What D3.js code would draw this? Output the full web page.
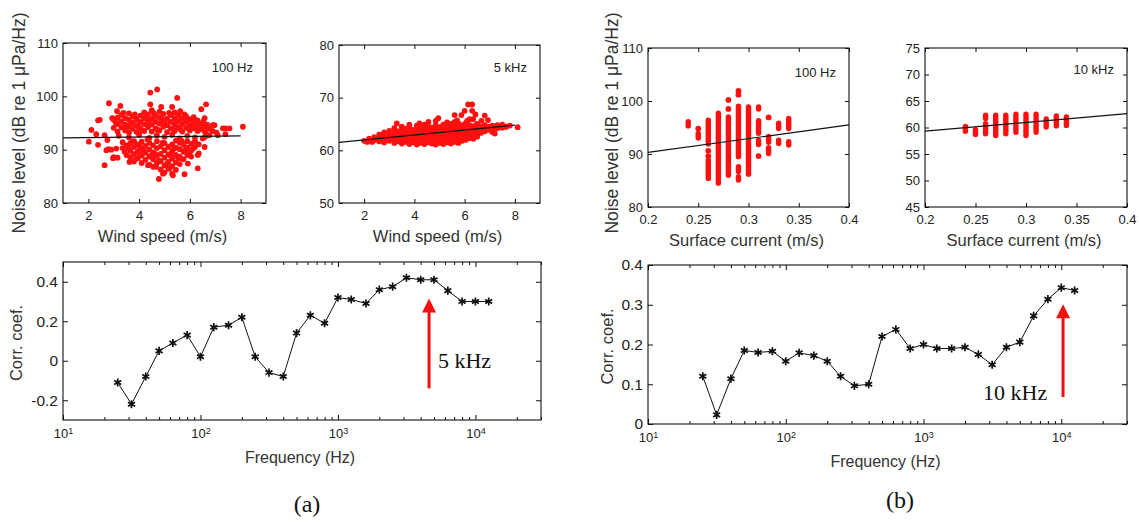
<!DOCTYPE html>
<html>
<head>
<meta charset="utf-8">
<script src="https://cdn.jsdelivr.net/npm/d3@7"></script>
<style>
body { margin: 0; background: #fff; }
svg { display: block; font-family: "Liberation Sans", Arial, sans-serif; }
</style>
</head>
<body>
<svg id="chart" width="1139" height="522"></svg>
<script>
// ---- (a) top left: noise at 100 Hz vs wind speed, [m/s, dB]
const windNoise100 = [
  [4.71,101.3],[4.44,100.7],[2.81,98.7],[5.5,99.7],[3.26,98.2],[4.44,98.5],[4.87,98.0],[5.3,98.0],
  [6.64,98.5],[6.45,97.6],[3.13,97.2],[5.62,97.2],[2.94,95.9],[2.38,95.5],[2.45,95.6],[6.58,95.9],
  [2.12,93.7],[2.31,92.9],[2.02,91.5],[2.38,90.9],[2.64,92.7],[2.71,89.9],[2.64,87.1],[3.1,90.2],
  [2.97,88.4],[8.09,94.3],[7.56,94.0],[7.4,94.0],[7.3,94.0],[6.97,94.6],[6.77,92.7],[6.51,92.1],
  [6.58,90.5],[6.31,89.0],[6.31,86.5],[5.79,85.4],[5.33,85.2],[5.2,86.5],[4.78,84.5],[4.94,85.5],
  [4.67,86.8],[4.35,87.1],[4.02,89.0],[3.62,87.7],[3.43,89.6],[5.92,87.4],[6.05,88.7],[5.59,88.4],
  [2.8,90.1],[2.9,90.0],[3.0,88.6],[3.15,88.5],[2.75,91.8],
  [3.0,94.1],[3.0,95.6],[3.15,93.4],[3.15,94.8],[3.15,96.0],[3.3,94.2],[3.3,95.3],[3.3,96.5],
  [3.45,93.6],[3.45,94.7],[3.45,95.9],[3.6,93.2],[3.6,94.4],[3.6,95.6],[3.6,96.8],[3.75,93.9],
  [3.75,95.0],[3.75,96.2],[3.9,93.3],[3.9,94.6],[3.9,95.7],[4.05,94.0],[4.05,95.2],[4.05,96.4],
  [4.2,93.5],[4.2,94.8],[4.2,95.9],[4.2,97.0],[4.35,94.2],[4.35,95.4],[4.35,96.6],[4.5,93.4],
  [4.5,94.7],[4.5,95.8],[4.5,97.4],[4.65,94.0],[4.65,95.2],[4.65,96.3],[4.8,93.6],[4.8,94.9],
  [4.8,96.0],[4.8,97.1],[4.95,94.3],[4.95,95.5],[4.95,96.7],[5.1,93.3],[5.1,94.6],[5.1,95.8],
  [5.25,94.0],[5.25,95.2],[5.25,96.5],[5.4,93.5],[5.4,94.7],[5.4,95.9],[5.4,97.0],[5.55,94.2],
  [5.55,95.4],[5.55,96.5],[5.7,93.4],[5.7,94.8],[5.7,95.8],[5.85,94.1],[5.85,95.2],[5.85,96.3],
  [6.0,93.6],[6.0,94.6],[6.0,95.7],[6.15,94.0],[6.15,95.0],[6.15,96.1],[6.3,93.5],[6.3,94.5],
  [6.3,95.5],[6.45,93.8],[6.45,94.9],[6.6,93.3],[6.6,94.3],[6.75,93.9],[6.9,93.5],[6.9,94.6],
  [7.05,93.2],
  [3.08,95.1],[3.38,96.9],[3.52,94.1],[3.68,95.0],[3.83,96.6],[3.98,94.2],[4.13,93.6],[4.28,96.0],
  [4.42,94.9],[4.58,96.8],[4.73,93.7],[4.88,95.8],[5.03,94.9],[5.18,96.9],[5.33,93.9],[5.48,95.3],
  [5.63,93.8],[5.78,96.6],[5.93,95.6],[6.08,94.3],[6.23,95.5],[6.38,94.0],[6.53,95.3],[6.68,94.7],
  [3.2,92.6],[3.6,92.3],[4.0,92.8],[4.4,92.2],[4.7,92.7],[5.0,92.4],[5.3,92.8],[5.6,92.1],
  [5.9,92.6],[6.2,92.3],[6.6,92.4],[7.1,92.7],[7.4,92.9],
  [3.35,90.3],[3.35,91.4],[3.5,89.0],[3.5,90.8],[3.65,88.6],[3.65,89.8],[3.65,91.2],[3.8,87.8],
  [3.8,89.2],[3.8,90.5],[3.8,91.6],[3.95,88.4],[3.95,89.7],[3.95,91.0],[4.1,87.5],[4.1,88.9],
  [4.1,90.2],[4.1,91.5],[4.25,88.1],[4.25,89.4],[4.25,90.7],[4.4,87.2],[4.4,88.7],[4.4,90.0],
  [4.4,91.3],[4.55,86.8],[4.55,88.2],[4.55,89.5],[4.55,90.8],[4.7,87.5],[4.7,88.9],[4.7,90.3],
  [4.7,91.6],[4.85,86.3],[4.85,87.8],[4.85,89.2],[4.85,90.6],[5.0,85.7],[5.0,87.0],[5.0,88.5],
  [5.0,89.9],[5.0,91.2],[5.15,86.4],[5.15,87.7],[5.15,89.1],[5.15,90.5],[5.3,85.5],[5.3,86.9],
  [5.3,88.3],[5.3,89.7],[5.3,91.0],[5.45,86.2],[5.45,87.6],[5.45,89.0],[5.45,90.4],[5.45,91.7],
  [5.6,87.3],[5.6,88.7],[5.6,90.1],[5.6,91.3],[5.75,88.2],[5.75,89.6],[5.75,90.9],[5.9,89.0],
  [5.9,90.4],[5.9,91.6],[6.05,89.8],[6.05,91.1],[6.2,90.5],[6.2,91.6],[6.35,89.3],[6.35,91.0],
  [3.58,90.3],[3.73,91.5],[3.88,88.3],[4.03,90.6],[4.18,89.8],[4.33,91.9],[4.48,88.9],[4.63,89.2],
  [4.78,88.0],[4.93,91.3],[5.08,87.3],[5.23,88.9],[5.38,90.2],[5.53,88.6],[5.68,91.6],[5.83,90.0],
  [5.98,89.5],[6.13,90.2]
];
const windFit100 = [[1, 92.2], [8, 92.6]];

// ---- (a) top right: noise at 5 kHz vs wind speed
const windNoise5k = [
  [6.14,68.7],[6.3,68.7],[6.0,67.5],[6.3,67.5],[6.43,66.8],[5.87,66.7],[6.2,65.9],[6.34,65.9],
  [5.6,66.7],[6.8,66.6],[6.93,65.75],[6.67,65.6],[4.95,66.1],[4.56,65.4],[3.3,65.1],[8.11,64.4],
  [7.65,64.5],[7.3,64.2],[7.2,63.2],[2.12,61.6],[2.32,61.6],[2.71,62.9],
  [2.0,61.8],[2.2,62.2],[2.4,61.9],[2.4,62.5],[2.6,61.7],[2.6,62.3],[2.6,63.0],[2.8,61.5],
  [2.8,62.1],[2.8,62.7],[2.8,63.4],[3.0,61.8],[3.0,62.4],[3.0,63.0],[3.0,63.7],[3.2,61.4],
  [3.2,62.0],[3.2,62.6],[3.2,63.3],[3.2,64.2],[3.35,61.7],[3.35,62.3],[3.35,62.9],[3.35,63.6],
  [3.5,61.3],[3.5,61.9],[3.5,62.5],[3.5,63.1],[3.5,63.8],[3.5,64.5],[3.65,61.6],[3.65,62.2],
  [3.65,62.8],[3.65,63.4],[3.65,64.1],[3.8,61.2],[3.8,61.8],[3.8,62.4],[3.8,63.0],[3.8,63.6],
  [3.8,64.3],[3.8,64.9],[3.95,61.5],[3.95,62.1],[3.95,62.7],[3.95,63.3],[3.95,63.9],[4.1,61.1],
  [4.1,61.7],[4.1,62.3],[4.1,62.9],[4.1,63.5],[4.1,64.1],[4.1,64.7],[4.25,61.4],[4.25,62.0],
  [4.25,62.6],[4.25,63.2],[4.25,63.8],[4.25,64.4],[4.4,61.2],[4.4,61.8],[4.4,62.4],[4.4,63.0],
  [4.4,63.6],[4.4,64.2],[4.4,64.9],[4.55,61.5],[4.55,62.1],[4.55,62.7],[4.55,63.3],[4.55,63.9],
  [4.55,64.6],[4.7,61.3],[4.7,61.9],[4.7,62.5],[4.7,63.1],[4.7,63.7],[4.7,64.3],[4.85,61.1],
  [4.85,61.7],[4.85,62.3],[4.85,62.9],[4.85,63.5],[4.85,64.1],[4.85,64.8],[4.85,65.6],[5.0,61.4],
  [5.0,62.0],[5.0,62.6],[5.0,63.2],[5.0,63.8],[5.0,64.4],[5.15,61.2],[5.15,61.8],[5.15,62.4],
  [5.15,63.0],[5.15,63.6],[5.15,64.2],[5.15,64.9],[5.3,61.5],[5.3,62.1],[5.3,62.7],[5.3,63.3],
  [5.3,63.9],[5.3,64.5],[5.3,65.3],[5.45,61.3],[5.45,61.9],[5.45,62.5],[5.45,63.1],[5.45,63.7],
  [5.45,64.3],[5.45,65.0],[5.6,61.6],[5.6,62.2],[5.6,62.8],[5.6,63.4],[5.6,64.0],[5.6,64.6],
  [5.6,65.4],[5.75,61.4],[5.75,62.0],[5.75,62.6],[5.75,63.2],[5.75,63.8],[5.75,64.4],[5.75,65.1],
  [5.9,61.8],[5.9,62.4],[5.9,63.0],[5.9,63.6],[5.9,64.2],[5.9,64.8],[6.05,62.0],[6.05,62.6],
  [6.05,63.2],[6.05,63.8],[6.05,64.4],[6.05,65.2],[6.2,62.3],[6.2,62.9],[6.2,63.5],[6.2,64.1],
  [6.2,64.8],[6.35,62.2],[6.35,62.8],[6.35,63.4],[6.35,64.0],[6.35,64.6],[6.5,62.6],[6.5,63.2],
  [6.5,63.8],[6.5,64.4],[6.5,65.0],[6.65,63.3],[6.65,63.9],[6.65,64.5],[6.8,63.6],[6.8,64.2],
  [6.8,64.8],[6.95,63.9],[6.95,64.5],[7.1,63.5],[7.1,64.1],[7.1,64.7],[7.3,64.8],[7.5,64.3],
  [7.5,64.9],[7.65,64.5],[7.8,64.7],
  [3.1,62.7],[3.4,63.3],[3.7,62.5],[4.0,63.1],[4.3,64.6],[4.6,62.4],[4.9,63.2],[5.2,64.6],
  [5.5,62.8],[5.8,63.5],[6.1,64.6],[6.4,63.1],[6.7,64.1],[4.2,65.1],[5.7,65.7],[6.1,65.6]
];
const windFit5k = [[1, 61.5], [8, 64.8]];

// ---- (b) top: noise vs surface current; each column = [current, low dB, high dB]
const currentRuns100 = [
  [0.24,95.3,96.1],[0.25,93.0,93.9],[0.26,91.9,96.4],[0.26,85.4,88.9],[0.27,84.5,97.7],
  [0.28,86.0,97.0],[0.29,89.5,99.0],[0.29,86.7,87.6],[0.29,85.1,85.7],[0.30,86.2,98.9],
  [0.31,98.5,98.9],[0.31,93.9,96.3],[0.31,91.8,92.6],[0.32,92.2,93.3],[0.32,90.1,91.2],
  [0.33,94.8,95.8],[0.33,92.0,92.6],[0.34,94.8,96.7],[0.34,91.7,92.3]
];
const currentDots100 = [
  [0.25,94.8],[0.26,90.6],[0.26,89.6],[0.28,100.2],[0.28,98.5],[0.29,101.9],[0.29,101.2],
  [0.31,89.6],[0.32,96.9]
];
const currentFit100 = [[0.2, 90.3], [0.4, 95.5]];

const currentRuns10k = [
  [0.24,59.3,60.2],[0.25,58.7,59.6],[0.26,61.7,62.3],[0.26,58.8,60.7],[0.27,58.5,62.3],
  [0.28,58.8,62.3],[0.29,59.1,62.5],[0.30,58.5,62.5],[0.31,59.1,62.5],[0.32,60.1,61.6],
  [0.33,60.3,62.2],[0.34,60.4,62.0]
];
const currentFit10k = [[0.2, 59.3], [0.4, 62.6]];

// ---- bottom: correlation coefficient per 1/3-octave band
const bands = [25,31.5,40,50,63,80,100,125,160,200,250,315,400,500,630,800,1000,1250,1600,2000,2500,3150,4000,5000,6300,8000,10000,12500];
const corrWind = [-0.11,-0.22,-0.08,0.05,0.09,0.13,0.02,0.17,0.18,0.22,0.02,-0.06,-0.08,0.14,0.23,0.19,0.32,0.31,0.29,0.36,0.375,0.42,0.41,0.41,0.355,0.30,0.30,0.30];
const corrCurrent = [0.12,0.023,0.114,0.185,0.18,0.183,0.158,0.179,0.172,0.158,0.12,0.096,0.10,0.22,0.238,0.19,0.20,0.19,0.19,0.193,0.175,0.149,0.193,0.206,0.272,0.314,0.343,0.336];

// arrow: [freq, from, to], note: [freq, corr, text]
const arrowWind = [4600, -0.14, 0.315];
const noteWind = [5340, -0.036, "5 kHz"];
const arrowCurrent = [10300, 0.068, 0.301];
const noteCurrent = [7900, 0.061, "10 kHz"];

const svg = d3.select("#chart");

function styleAxis(g, size) {
  g.attr("font-family", null).attr("font-size", size);
  g.select(".domain").remove();
  g.selectAll(".tick line").attr("stroke", "#111");
  g.selectAll(".tick text").attr("fill", "#222");
}

function box(p) {
  svg.append("rect")
    .attr("x", p.left).attr("y", p.top)
    .attr("width", p.w).attr("height", p.h)
    .attr("fill", "none").attr("stroke", "#111").attr("stroke-width", 1.1);
}

function scatterPanel(p) {
  let x = d3.scaleLinear().domain(p.xDomain).range([p.left, p.left + p.w]);
  let y = d3.scaleLinear().domain(p.yDomain).range([p.top + p.h, p.top]);
  let g = svg.append("g");

  g.append("g").attr("transform", `translate(0,${p.top + p.h})`)
    .call(d3.axisBottom(x).tickValues(p.xTicks).tickSize(-4).tickPadding(8).tickFormat(d => String(d)))
    .call(a => styleAxis(a, 13));
  g.append("g").attr("transform", `translate(0,${p.top})`)
    .call(d3.axisTop(x).tickValues(p.xTicks).tickSize(-4).tickFormat(""))
    .call(a => styleAxis(a, 13));
  g.append("g").attr("transform", `translate(${p.left},0)`)
    .call(d3.axisLeft(y).tickValues(p.yTicks).tickSize(-4).tickPadding(5).tickFormat(d => String(d)))
    .call(a => styleAxis(a, 13));
  g.append("g").attr("transform", `translate(${p.left + p.w},0)`)
    .call(d3.axisRight(y).tickValues(p.yTicks).tickSize(-4).tickFormat(""))
    .call(a => styleAxis(a, 13));

  if (p.runs) {
    g.selectAll(".run").data(p.runs).enter().append("line")
      .attr("x1", d => x(d[0])).attr("x2", d => x(d[0]))
      .attr("y1", d => y(d[1])).attr("y2", d => y(d[2]))
      .attr("stroke", "#ff1010").attr("stroke-width", 5.4).attr("stroke-linecap", "round");
  }
  if (p.dots) {
    g.selectAll(".dot").data(p.dots).enter().append("circle")
      .attr("cx", d => x(d[0])).attr("cy", d => y(d[1])).attr("r", 2.9)
      .attr("fill", "#ff1010");
  }

  g.append("path").datum(p.fit)
    .attr("d", d3.line().x(d => x(d[0])).y(d => y(d[1])))
    .attr("stroke", "#111").attr("stroke-width", 1.2).attr("fill", "none");

  box(p);

  g.append("text").attr("x", p.left + p.w - 13).attr("y", p.top + p.tagDy)
    .attr("text-anchor", "end").attr("font-size", 13).attr("fill", "#222").text(p.tag);
  g.append("text").attr("x", p.left + p.w / 2 - 2).attr("y", p.top + p.h + 39)
    .attr("text-anchor", "middle").attr("font-size", 16.5).attr("fill", "#333").text(p.xLabel);
  if (p.yLabel) {
    g.append("text")
      .attr("transform", `translate(${p.yLabelX},123) rotate(-90)`)
      .attr("text-anchor", "middle").attr("font-size", 17.5).attr("fill", "#333").text(p.yLabel);
  }
}

function corrPanel(p) {
  let x = d3.scaleLog().domain([10, 30000]).range([p.left, p.left + p.w]);
  let y = d3.scaleLinear().domain(p.yDomain).range([p.top + p.h, p.top]);
  let g = svg.append("g");
  let majors = [10, 100, 1000, 10000];
  let minors = [];
  [10, 100, 1000, 10000].forEach(dec => {
    for (let k = 2; k <= 9; k++) if (dec * k <= 30000) minors.push(dec * k);
  });

  let xb = g.append("g").attr("transform", `translate(0,${p.top + p.h})`)
    .call(d3.axisBottom(x).tickValues(majors).tickSize(-5).tickPadding(9).tickFormat(""))
    .call(a => styleAxis(a, 13));
  xb.selectAll(".tick text").each(function(d) {
    let t = d3.select(this);
    t.append("tspan").text("10");
    t.append("tspan").attr("dy", "-0.45em").attr("font-size", 9).text(Math.round(Math.log10(d)));
  });
  g.append("g").attr("transform", `translate(0,${p.top + p.h})`)
    .call(d3.axisBottom(x).tickValues(minors).tickSize(-3).tickFormat(""))
    .call(a => styleAxis(a, 13));
  g.append("g").attr("transform", `translate(0,${p.top})`)
    .call(d3.axisTop(x).tickValues(majors).tickSize(-5).tickFormat(""))
    .call(a => styleAxis(a, 13));
  g.append("g").attr("transform", `translate(0,${p.top})`)
    .call(d3.axisTop(x).tickValues(minors).tickSize(-3).tickFormat(""))
    .call(a => styleAxis(a, 13));
  g.append("g").attr("transform", `translate(${p.left},0)`)
    .call(d3.axisLeft(y).tickValues(p.yTicks).tickSize(-5).tickPadding(5).tickFormat(d => String(d)))
    .call(a => styleAxis(a, 15.5));
  g.append("g").attr("transform", `translate(${p.left + p.w},0)`)
    .call(d3.axisRight(y).tickValues(p.yTicks).tickSize(-5).tickFormat(""))
    .call(a => styleAxis(a, 15.5));

  box(p);

  let pts = bands.map((f, i) => [f, p.values[i]]);
  g.append("path").datum(pts)
    .attr("d", d3.line().x(d => x(d[0])).y(d => y(d[1])))
    .attr("stroke", "#111").attr("stroke-width", 1).attr("fill", "none");
  g.selectAll(".star").data(pts).enter().append("path")
    .attr("transform", d => `translate(${x(d[0])},${y(d[1])})`)
    .attr("d", d3.symbol().type(d3.symbolAsterisk).size(46))
    .attr("stroke", "#111").attr("stroke-width", 1.7).attr("fill", "none");

  // red arrow
  let ax = x(p.arrow[0]), y0 = y(p.arrow[1]), y1 = y(p.arrow[2]);
  g.append("line").attr("x1", ax).attr("x2", ax).attr("y1", y0).attr("y2", y1 + 12)
    .attr("stroke", "#f01010").attr("stroke-width", 3);
  g.append("path")
    .attr("d", `M${ax},${y1}L${ax - 7},${y1 + 14}L${ax + 7},${y1 + 14}Z`)
    .attr("fill", "#f01010");
  g.append("text").attr("x", x(p.note[0])).attr("y", y(p.note[1]))
    .attr("text-anchor", p.noteAnchor)
    .attr("font-family", "'Liberation Serif', 'Times New Roman', serif")
    .attr("font-size", 22).attr("fill", "#111").text(p.note[2]);

  g.append("text").attr("x", p.left + p.w / 2 - 2).attr("y", p.top + p.h + 43)
    .attr("text-anchor", "middle").attr("font-size", 16).attr("fill", "#333").text("Frequency (Hz)");
  g.append("text")
    .attr("transform", `translate(${p.yLabelX},${p.top + p.h / 2 + 2}) rotate(-90)`)
    .attr("text-anchor", "middle").attr("font-size", 16.5).attr("fill", "#333").text("Corr. coef.");
}

scatterPanel({
  left: 63, top: 43, w: 203, h: 160, xDomain: [1, 9], yDomain: [80, 110],
  xTicks: [2, 4, 6, 8], yTicks: [80, 90, 100, 110], dots: windNoise100, fit: windFit100,
  tag: "100 Hz", tagDy: 29, xLabel: "Wind speed (m/s)",
  yLabel: "Noise level (dB re 1 \u03bcPa/Hz)", yLabelX: 25
});
scatterPanel({
  left: 339, top: 45, w: 201, h: 158, xDomain: [1, 9], yDomain: [50, 80],
  xTicks: [2, 4, 6, 8], yTicks: [50, 60, 70, 80], dots: windNoise5k, fit: windFit5k,
  tag: "5 kHz", tagDy: 27, xLabel: "Wind speed (m/s)"
});
scatterPanel({
  left: 648, top: 48, w: 201, h: 159, xDomain: [0.2, 0.4], yDomain: [80, 110],
  xTicks: [0.2, 0.25, 0.3, 0.35, 0.4], yTicks: [80, 90, 100, 110],
  runs: currentRuns100, dots: currentDots100, fit: currentFit100,
  tag: "100 Hz", tagDy: 29, xLabel: "Surface current (m/s)",
  yLabel: "Noise level (dB re 1 \u03bcPa/Hz)", yLabelX: 618
});
scatterPanel({
  left: 925, top: 48, w: 202, h: 159, xDomain: [0.2, 0.4], yDomain: [45, 75],
  xTicks: [0.2, 0.25, 0.3, 0.35, 0.4], yTicks: [45, 50, 55, 60, 65, 70, 75],
  runs: currentRuns10k, fit: currentFit10k,
  tag: "10 kHz", tagDy: 26, xLabel: "Surface current (m/s)"
});

corrPanel({
  left: 63, top: 262, w: 478, h: 158, yDomain: [-0.3, 0.5], yTicks: [-0.2, 0, 0.2, 0.4],
  values: corrWind, arrow: arrowWind, note: noteWind, noteAnchor: "start", yLabelX: 22
});
corrPanel({
  left: 648, top: 265, w: 479, h: 159, yDomain: [0, 0.4], yTicks: [0, 0.1, 0.2, 0.3, 0.4],
  values: corrCurrent, arrow: arrowCurrent, note: noteCurrent, noteAnchor: "end", yLabelX: 613
});

svg.append("text").attr("x", 307).attr("y", 512).attr("text-anchor", "middle")
  .attr("font-family", "'Liberation Serif', 'Times New Roman', serif").attr("font-size", 24)
  .attr("fill", "#111").text("(a)");
svg.append("text").attr("x", 900).attr("y", 508).attr("text-anchor", "middle")
  .attr("font-family", "'Liberation Serif', 'Times New Roman', serif").attr("font-size", 24)
  .attr("fill", "#111").text("(b)");
</script>
</body>
</html>
